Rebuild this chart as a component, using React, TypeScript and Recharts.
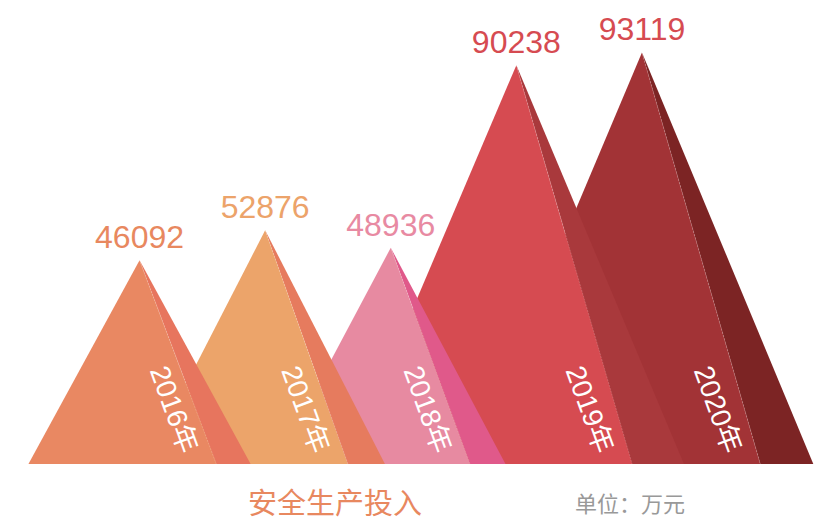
import React from 'react';
import { BarChart, Bar, XAxis, YAxis } from 'recharts';

const years = ['2016年', '2017年', '2018年', '2019年', '2020年'];
const values = [46092, 52876, 48936, 90238, 93119];
const frontColors = ['#E98862', '#ECA46A', '#E78AA1', '#D64B51', '#A23336'];
const sideColors = ['#E7755E', '#E67B5E', '#E0598A', '#A9393C', '#7C2424'];
const labelColors = ['#E8885F', '#ECA36A', '#E88AA2', '#D64B51', '#D64B51'];
const title = '安全生产投入';
const unitText = '单位：万元';

// drawn from last to first so earlier mountains sit in front
const data = years
  .map((year, i) => ({
    year,
    value: values[i],
    front: frontColors[i],
    side: sideColors[i],
    labelColor: labelColors[i],
  }))
  .reverse();

const FONT = '"Liberation Sans", Arial, "Noto Sans CJK SC", sans-serif';

const Mountain = (props: any) => {
  const { x, y, width, height, payload } = props;
  if (height == null || height <= 0) return null;
  const cx = x + width / 2;
  const baseY = y + height;
  const h = height;
  const L = 50 + 0.3 * h;
  const F = 36 + 0.2 * h;
  const S = 52 + 0.29 * h;
  const lx = cx - L;
  const fx = cx + F;
  const sx = cx + S;
  const ex = fx - 36;
  const ey = baseY - 9;
  return (
    <g>
      <polygon points={`${cx},${y} ${fx},${baseY} ${sx},${baseY}`} fill={payload.side} />
      <polygon points={`${lx},${baseY} ${cx},${y} ${fx},${baseY}`} fill={payload.front} />
      <line x1={cx} y1={y} x2={fx} y2={baseY} stroke="rgba(255,255,255,0.22)" strokeWidth={0.8} strokeDasharray="2 1" />
      <text
        x={cx}
        y={y - 12}
        textAnchor="middle"
        fontSize={32}
        fontFamily={FONT}
        fill={payload.labelColor}
      >
        {payload.value}
      </text>
      <text
        x={ex}
        y={ey}
        textAnchor="end"
        fontSize={28}
        fontFamily={FONT}
        fill="#ffffff"
        transform={`rotate(70, ${ex}, ${ey})`}
      >
        {payload.year}
      </text>
    </g>
  );
};

export default function App() {
  return (
    <div style={{ position: 'fixed', left: 0, top: 0, width: 837, height: 522, background: '#fff' }}>
      <BarChart
        width={837}
        height={522}
        data={data}
        margin={{ top: 22, right: 0, left: 15, bottom: 58 }}
      >
        <XAxis
          dataKey="year"
          reversed
          tick={false}
          tickLine={false}
          height={0}
          axisLine={{ stroke: '#B5393B', strokeWidth: 2 }}
          padding={{ left: 62, right: 132 }}
        />
        <YAxis hide domain={[0, 100000]} />
        <Bar dataKey="value" shape={Mountain} isAnimationActive={false} />
      </BarChart>
      <svg
        width={837}
        height={522}
        style={{ position: 'absolute', left: 0, top: 0, pointerEvents: 'none' }}
      >
        <text
          x={335}
          y={501}
          textAnchor="middle"
          dominantBaseline="central"
          fontSize={29}
          fontFamily='"Noto Sans CJK SC", sans-serif'
          fill="#E8885F"
        >
          {title}
        </text>
        <text
          x={630}
          y={502}
          textAnchor="middle"
          dominantBaseline="central"
          fontSize={22}
          fontFamily='"Noto Sans CJK SC", sans-serif'
          fill="#999999"
        >
          {unitText}
        </text>
      </svg>
    </div>
  );
}
